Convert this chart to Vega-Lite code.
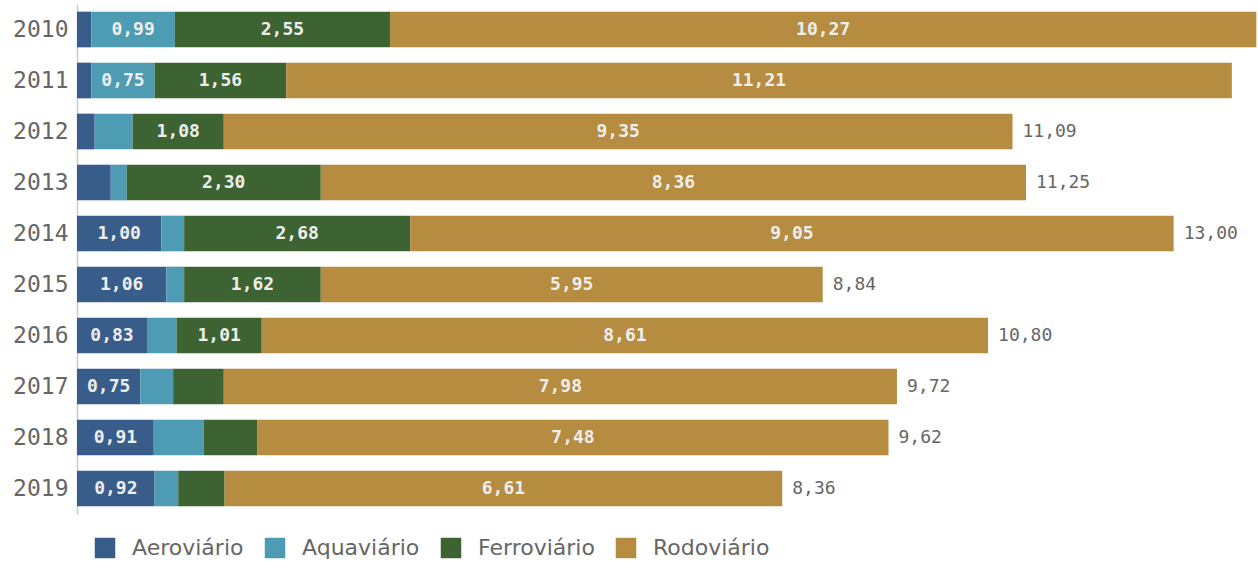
{
  "$schema": "https://vega.github.io/schema/vega-lite/v6.json",
  "width": 1181,
  "height": 510,
  "padding": {"left": 12, "top": 4, "right": 0, "bottom": 0},
  "autosize": {"type": "pad"},
  "background": "white",
  "datasets": {
    "modal": [
      {"ano": "2010", "modal": "Aeroviário", "valor": 0.17},
      {"ano": "2010", "modal": "Aquaviário", "valor": 0.99},
      {"ano": "2010", "modal": "Ferroviário", "valor": 2.55},
      {"ano": "2010", "modal": "Rodoviário", "valor": 10.27},
      {"ano": "2011", "modal": "Aeroviário", "valor": 0.17},
      {"ano": "2011", "modal": "Aquaviário", "valor": 0.75},
      {"ano": "2011", "modal": "Ferroviário", "valor": 1.56},
      {"ano": "2011", "modal": "Rodoviário", "valor": 11.21},
      {"ano": "2012", "modal": "Aeroviário", "valor": 0.21},
      {"ano": "2012", "modal": "Aquaviário", "valor": 0.45},
      {"ano": "2012", "modal": "Ferroviário", "valor": 1.08},
      {"ano": "2012", "modal": "Rodoviário", "valor": 9.35},
      {"ano": "2013", "modal": "Aeroviário", "valor": 0.40},
      {"ano": "2013", "modal": "Aquaviário", "valor": 0.19},
      {"ano": "2013", "modal": "Ferroviário", "valor": 2.30},
      {"ano": "2013", "modal": "Rodoviário", "valor": 8.36},
      {"ano": "2014", "modal": "Aeroviário", "valor": 1.00},
      {"ano": "2014", "modal": "Aquaviário", "valor": 0.27},
      {"ano": "2014", "modal": "Ferroviário", "valor": 2.68},
      {"ano": "2014", "modal": "Rodoviário", "valor": 9.05},
      {"ano": "2015", "modal": "Aeroviário", "valor": 1.06},
      {"ano": "2015", "modal": "Aquaviário", "valor": 0.21},
      {"ano": "2015", "modal": "Ferroviário", "valor": 1.62},
      {"ano": "2015", "modal": "Rodoviário", "valor": 5.95},
      {"ano": "2016", "modal": "Aeroviário", "valor": 0.83},
      {"ano": "2016", "modal": "Aquaviário", "valor": 0.35},
      {"ano": "2016", "modal": "Ferroviário", "valor": 1.01},
      {"ano": "2016", "modal": "Rodoviário", "valor": 8.61},
      {"ano": "2017", "modal": "Aeroviário", "valor": 0.75},
      {"ano": "2017", "modal": "Aquaviário", "valor": 0.39},
      {"ano": "2017", "modal": "Ferroviário", "valor": 0.60},
      {"ano": "2017", "modal": "Rodoviário", "valor": 7.98},
      {"ano": "2018", "modal": "Aeroviário", "valor": 0.91},
      {"ano": "2018", "modal": "Aquaviário", "valor": 0.59},
      {"ano": "2018", "modal": "Ferroviário", "valor": 0.64},
      {"ano": "2018", "modal": "Rodoviário", "valor": 7.48},
      {"ano": "2019", "modal": "Aeroviário", "valor": 0.92},
      {"ano": "2019", "modal": "Aquaviário", "valor": 0.28},
      {"ano": "2019", "modal": "Ferroviário", "valor": 0.55},
      {"ano": "2019", "modal": "Rodoviário", "valor": 6.61}
    ],
    "totais": [
      {"ano": "2012", "total": 11.09},
      {"ano": "2013", "total": 11.25},
      {"ano": "2014", "total": 13.00},
      {"ano": "2015", "total": 8.84},
      {"ano": "2016", "total": 10.80},
      {"ano": "2017", "total": 9.72},
      {"ano": "2018", "total": 9.62},
      {"ano": "2019", "total": 8.36}
    ]
  },
  "encoding": {
    "y": {
      "field": "ano",
      "type": "ordinal",
      "sort": "ascending",
      "scale": {"paddingInner": 0.3, "paddingOuter": 0.15},
      "axis": {
        "title": null,
        "ticks": false,
        "labelPadding": 9,
        "labelFont": "DejaVu Sans Mono",
        "labelFontSize": 23,
        "labelColor": "#666666",
        "domainColor": "#cccccc",
        "domainWidth": 1.5,
        "grid": false
      }
    }
  },
  "layer": [
    {
      "data": {"name": "modal"},
      "mark": {"type": "bar"},
      "encoding": {
        "x": {"field": "valor", "type": "quantitative", "stack": "zero", "scale": {"domain": [0, 14]}, "axis": null},
        "color": {
          "field": "modal",
          "type": "nominal",
          "scale": {
            "domain": ["Aeroviário", "Aquaviário", "Ferroviário", "Rodoviário"],
            "range": ["#385d8a", "#4d9cb3", "#3d6333", "#b68c41"]
          },
          "legend": {
            "title": null,
            "orient": "none",
            "legendX": 17,
            "legendY": 533,
            "direction": "horizontal",
            "symbolType": "square",
            "symbolSize": 420,
            "symbolOpacity": 1,
            "symbolStrokeWidth": 0,
            "labelFont": "DejaVu Sans",
            "labelFontSize": 22,
            "labelColor": "#666666",
            "labelOffset": 16,
            "labelLimit": 400,
            "columnPadding": 20
          }
        },
        "order": {"field": "modal", "sort": "ascending"}
      }
    },
    {
      "data": {"name": "modal"},
      "transform": [
        {"stack": "valor", "groupby": ["ano"], "sort": [{"field": "modal", "order": "ascending"}], "as": ["v0", "v1"]},
        {"calculate": "(datum.v0 + datum.v1) / 2", "as": "meio"},
        {"filter": "datum.valor >= 0.7"}
      ],
      "mark": {"type": "text", "font": "DejaVu Sans Mono", "fontSize": 18, "fontWeight": "bold", "color": "#eeeeee", "align": "center", "baseline": "middle"},
      "encoding": {
        "x": {"field": "meio", "type": "quantitative"},
        "text": {"field": "valor", "type": "quantitative", "format": ".2f"}
      }
    },
    {
      "data": {"name": "totais"},
      "mark": {"type": "text", "font": "DejaVu Sans Mono", "fontSize": 18, "color": "#666666", "align": "left", "baseline": "middle", "dx": 10},
      "encoding": {
        "x": {"field": "total", "type": "quantitative"},
        "text": {"field": "total", "type": "quantitative", "format": ".2f"}
      }
    }
  ],
  "config": {
    "view": {"stroke": null},
    "locale": {"number": {"decimal": ",", "thousands": ".", "grouping": [3], "currency": ["R$", ""]}}
  }
}
